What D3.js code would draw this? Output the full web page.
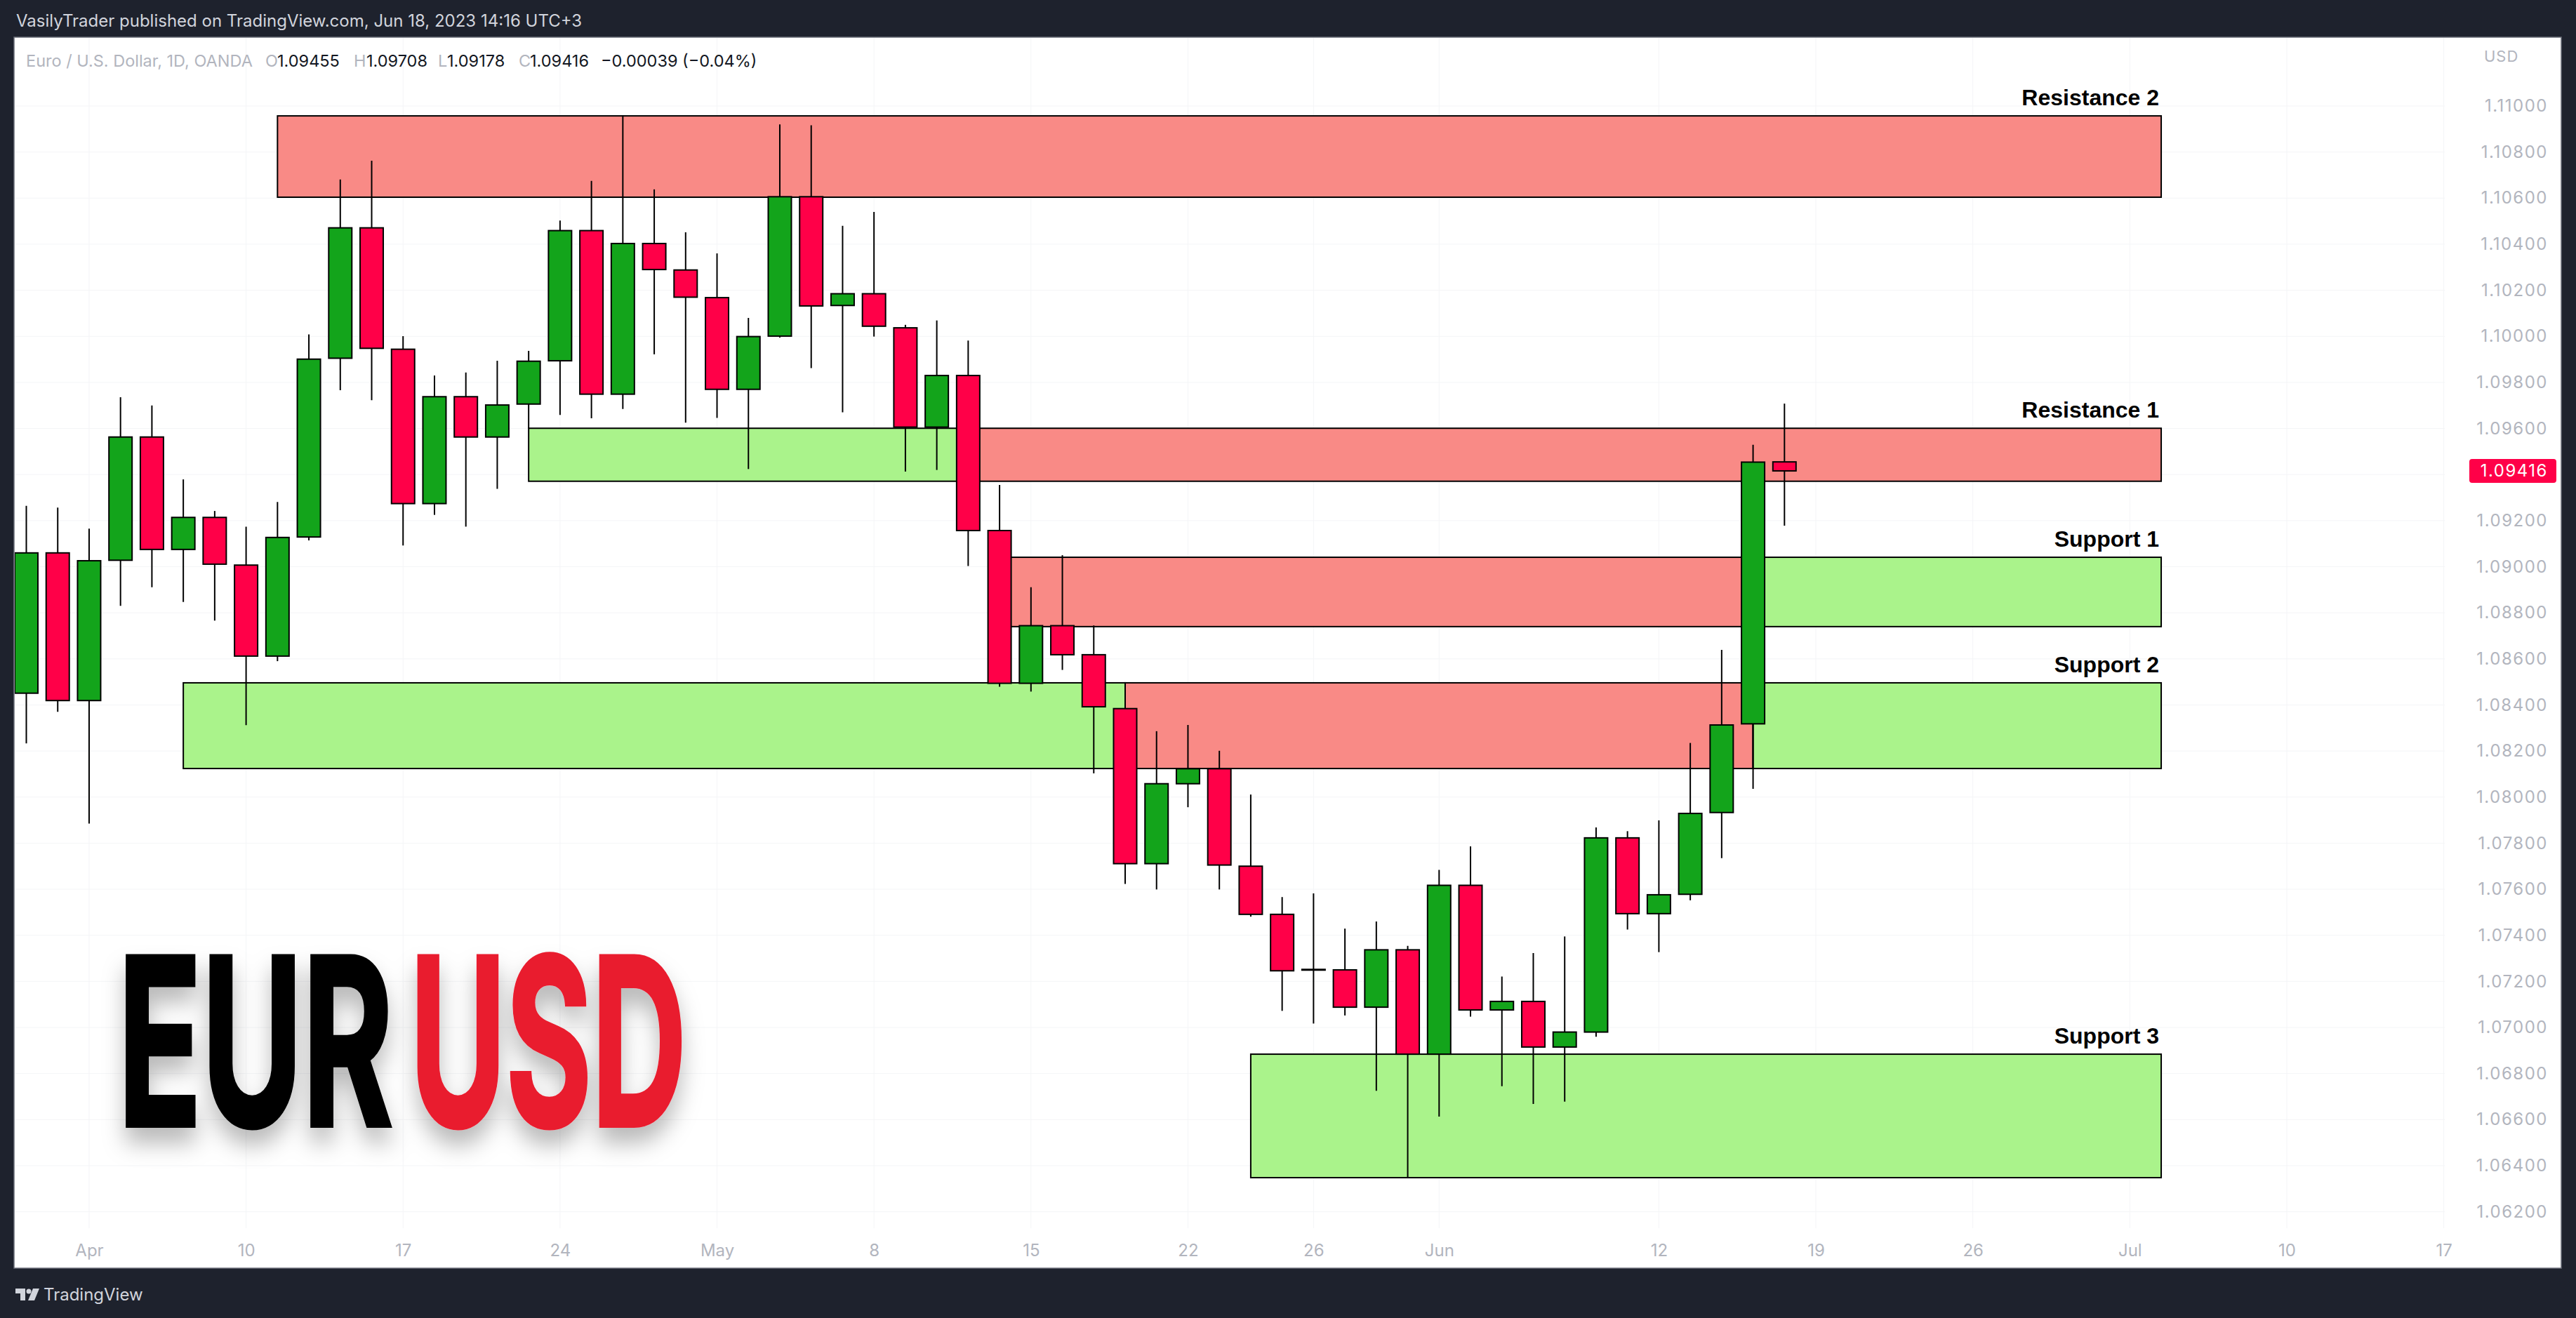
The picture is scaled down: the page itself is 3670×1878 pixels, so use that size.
<!DOCTYPE html>
<html>
<head>
<meta charset="utf-8">
<script src="https://cdn.jsdelivr.net/npm/d3@7"></script>
<style>
html,body{margin:0;padding:0;background:#1e222d;overflow:hidden}
text{font-family:Inter,"Noto Sans",sans-serif}
</style>
</head>
<body>
<svg id="chart" width="3670" height="1878"></svg>
<script>
// ---------- DATA ----------
const dates = ["2023-03-30","2023-03-31","2023-04-03","2023-04-04","2023-04-05","2023-04-06","2023-04-07",
"2023-04-10","2023-04-11","2023-04-12","2023-04-13","2023-04-14","2023-04-17","2023-04-18","2023-04-19",
"2023-04-20","2023-04-21","2023-04-24","2023-04-25","2023-04-26","2023-04-27","2023-04-28","2023-05-01",
"2023-05-02","2023-05-03","2023-05-04","2023-05-05","2023-05-08","2023-05-09","2023-05-10","2023-05-11",
"2023-05-12","2023-05-15","2023-05-16","2023-05-17","2023-05-18","2023-05-19","2023-05-22","2023-05-23",
"2023-05-24","2023-05-25","2023-05-26","2023-05-29","2023-05-30","2023-05-31","2023-06-01","2023-06-02",
"2023-06-05","2023-06-06","2023-06-07","2023-06-08","2023-06-09","2023-06-12","2023-06-13","2023-06-14",
"2023-06-15","2023-06-16"];
const openP  = [1.08451,1.09060,1.08419,1.09028,1.09563,1.09075,1.09214,1.09007,1.08612,1.09129,1.09905,1.10471,1.09944,1.09274,1.09738,
1.09563,1.09706,1.09894,1.10459,1.09749,1.10403,1.10288,1.10168,1.09770,1.10001,1.10606,1.10134,1.10185,1.10037,1.09606,1.09830,
1.09157,1.08494,1.08744,1.08618,1.08384,1.07711,1.08058,1.08123,1.07700,1.07491,1.07250,1.07250,1.07088,1.07337,1.06884,1.07617,
1.07076,1.07113,1.06915,1.06980,1.07823,1.07494,1.07578,1.07933,1.08318,1.09455];
const highP  = [1.09264,1.09257,1.09165,1.09736,1.09700,1.09379,1.09242,1.09174,1.09281,1.10008,1.10681,1.10762,1.10001,1.09830,1.09843,
1.09894,1.09937,1.10503,1.10675,1.10959,1.10638,1.10452,1.10360,1.10080,1.10920,1.10916,1.10480,1.10540,1.10050,1.10069,1.09982,
1.09355,1.08911,1.09050,1.08745,1.08495,1.08286,1.08313,1.08201,1.08011,1.07566,1.07582,1.07429,1.07460,1.07354,1.07684,1.07786,
1.07221,1.07323,1.07395,1.07868,1.07852,1.07899,1.08235,1.08639,1.09529,1.09708];
const lowP   = [1.08233,1.08370,1.07885,1.08830,1.08911,1.08847,1.08766,1.08312,1.08590,1.09114,1.09766,1.09723,1.09092,1.09225,1.09174,
1.09338,1.09601,1.09659,1.09644,1.09685,1.09922,1.09625,1.09646,1.09424,1.09995,1.09862,1.09670,1.09999,1.09413,1.09420,1.09003,
1.08479,1.08458,1.08552,1.08103,1.07623,1.07599,1.07956,1.07599,1.07481,1.07072,1.07017,1.07052,1.06725,1.06350,1.06613,1.07047,
1.06745,1.06668,1.06678,1.06960,1.07425,1.07327,1.07552,1.07735,1.08036,1.09178];
const closeP = [1.09060,1.08419,1.09026,1.09563,1.09075,1.09214,1.09011,1.08612,1.09127,1.09901,1.10471,1.09948,1.09274,1.09738,1.09563,
1.09702,1.09892,1.10459,1.09749,1.10403,1.10290,1.10170,1.09770,1.09999,1.10606,1.10132,1.10185,1.10044,1.09606,1.09830,1.09157,
1.08494,1.08744,1.08618,1.08392,1.07711,1.08058,1.08123,1.07705,1.07491,1.07246,1.07252,1.07088,1.07337,1.06884,1.07617,1.07076,
1.07113,1.06915,1.06980,1.07823,1.07494,1.07576,1.07929,1.08313,1.09454,1.09416];

const yTickValues = [1.062,1.064,1.066,1.068,1.070,1.072,1.074,1.076,1.078,1.080,1.082,1.084,1.086,1.088,1.090,
1.092,1.094,1.096,1.098,1.100,1.102,1.104,1.106,1.108,1.110];
const xTickLabels = ["Apr","10","17","24","May","8","15","22","26","Jun","12","19","26","Jul","10","17"];
const xTickDates  = ["2023-04-03","2023-04-10","2023-04-17","2023-04-24","2023-05-01","2023-05-08","2023-05-15",
"2023-05-22","2023-05-26","2023-06-01","2023-06-12","2023-06-19","2023-06-26","2023-07-03","2023-07-10","2023-07-17"];

// zones (price rectangles)
const zoneFrom = ["2023-04-11","2023-04-21","2023-05-11","2023-05-12","2023-06-15","2023-04-06","2023-05-18","2023-06-15","2023-05-24"];
const zoneTo   = ["2023-07-04","2023-05-11","2023-07-04","2023-06-15","2023-07-04","2023-05-18","2023-06-15","2023-07-04","2023-07-04"];
const zoneHigh = [1.10957,1.09601,1.09601,1.09041,1.09041,1.08496,1.08496,1.08496,1.06884];
const zoneLow  = [1.10604,1.09371,1.09371,1.08740,1.08740,1.08124,1.08124,1.08124,1.06348];
const zoneKind = ["resistance","support","resistance","resistance","support","support","resistance","support","support"];

const levelNames  = ["Resistance 2","Resistance 1","Support 1","Support 2","Support 3"];
const levelPrices = [1.10957,1.09601,1.09041,1.08496,1.06884];
const levelEnd    = "2023-07-04";

const symbolTitle = "Euro / U.S. Dollar, 1D, OANDA";
const lastChange = "\u22120.00039 (\u22120.04%)";

// ---------- HELPERS ----------
const t0 = Date.UTC(2023,2,30);
function tIndex(s){
  const [y,m,d] = s.split("-").map(Number);
  const t = Date.UTC(y,m-1,d);
  let n = 0;
  for(let u=t0; u<t; u+=864e5){ const wd = new Date(u).getUTCDay(); if(wd!==0 && wd!==6) n++; }
  return n;
}

const W = 3670, H = 1878;
const svg = d3.select("#chart");
const x = d3.scaleLinear().domain([0, 77]).range([37.5, 3481.6]);
const y = d3.scaleLinear().domain([1.062, 1.110]).range([1726.6, 151]);
const zoneColor = d3.scaleOrdinal().domain(["resistance","support"]).range(["#f98a86","#aaf38b"]);
const candleColor = (o,c) => c >= o ? "#13a41b" : "#ff0048";

// background + panel
svg.append("rect").attr("width",W).attr("height",H).attr("fill","#1e222d");
svg.append("rect").attr("x",20).attr("y",53).attr("width",3629).attr("height",1754)
  .attr("fill","#ffffff").attr("stroke","#6a6d78").attr("stroke-width",1.5);

const defs = svg.append("defs");
defs.append("clipPath").attr("id","plotClip").append("rect")
  .attr("x",21).attr("y",54).attr("width",3462).attr("height",1700);
const f = defs.append("filter").attr("id","shadow").attr("x","-20%").attr("y","-20%").attr("width","140%").attr("height","160%");
f.append("feDropShadow").attr("dx",0).attr("dy",22).attr("stdDeviation",16)
  .attr("flood-color","#000").attr("flood-opacity",0.28);

// grid
const grid = svg.append("g").attr("clip-path","url(#plotClip)");
grid.selectAll("line.h").data(yTickValues).join("line")
  .attr("x1",20).attr("x2",3483).attr("y1",d=>y(d)).attr("y2",d=>y(d))
  .attr("stroke","#f4f5f7").attr("stroke-width",1);
grid.selectAll("line.v").data(xTickDates).join("line")
  .attr("x1",d=>x(tIndex(d))).attr("x2",d=>x(tIndex(d))).attr("y1",54).attr("y2",1750)
  .attr("stroke","#f4f5f7").attr("stroke-width",1);

// zones
const plot = svg.append("g").attr("clip-path","url(#plotClip)");
plot.append("g").selectAll("rect").data(zoneFrom.map((d,i)=>i)).join("rect")
  .attr("x",i=>x(tIndex(zoneFrom[i])))
  .attr("width",i=>x(tIndex(zoneTo[i]))-x(tIndex(zoneFrom[i])))
  .attr("y",i=>y(zoneHigh[i]))
  .attr("height",i=>y(zoneLow[i])-y(zoneHigh[i]))
  .attr("fill",i=>zoneColor(zoneKind[i]))
  .attr("stroke","#000").attr("stroke-width",2);

// candles
const idx = dates.map((d,i)=>i);
const cg = plot.append("g");
cg.selectAll("line").data(idx).join("line")
  .attr("x1",i=>x(tIndex(dates[i]))).attr("x2",i=>x(tIndex(dates[i])))
  .attr("y1",i=>y(highP[i])).attr("y2",i=>y(lowP[i]))
  .attr("stroke","#000").attr("stroke-width",2);
const bw = 33;
cg.selectAll("rect").data(idx).join("rect")
  .attr("x",i=>x(tIndex(dates[i]))-bw/2)
  .attr("width",bw)
  .attr("y",i=>y(Math.max(openP[i],closeP[i])))
  .attr("height",i=>Math.max(1,Math.abs(y(openP[i])-y(closeP[i]))))
  .attr("fill",i=>candleColor(openP[i],closeP[i]))
  .attr("stroke","#000").attr("stroke-width",2);

// level labels
svg.append("g").selectAll("text").data(levelNames).join("text")
  .attr("x",x(tIndex(levelEnd))-3)
  .attr("y",(d,i)=>y(levelPrices[i])-15)
  .attr("text-anchor","end")
  .style("font-family","'Liberation Sans',Arial,sans-serif")
  .attr("font-weight",700).attr("font-size",32).attr("fill","#000")
  .text(d=>d);

// y axis
const yAxis = svg.append("g").attr("transform","translate(3630,0)")
  .call(d3.axisRight(y).tickValues(yTickValues).tickFormat(d3.format(".5f")).tickSize(0).tickPadding(0));
yAxis.select(".domain").remove();
yAxis.selectAll("text").attr("text-anchor","end").attr("fill","#b2b5be")
  .attr("font-size",24).style("letter-spacing","1.5px").style("font-family","Inter,sans-serif");
svg.append("text").attr("x",3539).attr("y",88).attr("fill","#b2b5be").attr("font-size",22)
  .style("letter-spacing","1px").text("USD");

// last price label
const lastC = closeP[closeP.length-1];
svg.append("rect").attr("x",3518).attr("y",y(lastC)-17).attr("width",124).attr("height",34).attr("rx",4)
  .attr("fill","#ff0048");
svg.append("text").attr("x",3630).attr("y",y(lastC)).attr("dy","0.35em").attr("text-anchor","end")
  .attr("fill","#fff").attr("font-size",24).style("letter-spacing","1.5px").text(d3.format(".5f")(lastC));

// x axis
const xAxis = svg.append("g").attr("transform","translate(0,1773)")
  .call(d3.axisBottom(x).tickValues(xTickDates.map(tIndex)).tickFormat((d,i)=>xTickLabels[i]).tickSize(0).tickPadding(0));
xAxis.select(".domain").remove();
xAxis.selectAll("text").attr("fill","#b2b5be").attr("font-size",24).style("font-family","Inter,sans-serif");

// header
svg.append("text").attr("x",23).attr("y",38).attr("fill","#d1d4dc").attr("font-size",24)
  .text("VasilyTrader published on TradingView.com, Jun 18, 2023 14:16 UTC+3");
const hdr = svg.append("text").attr("y",95).attr("font-size",23.5);
const grey = "#b2b5be", dark = "#131722";
const pieces = [
  [symbolTitle,37,grey],["O",378,grey],[d3.format(".5f")(openP[56]),395,dark],
  ["H",504,grey],[d3.format(".5f")(highP[56]),522,dark],
  ["L",624,grey],[d3.format(".5f")(lowP[56]),637,dark],
  ["C",739,grey],[d3.format(".5f")(closeP[56]),755,dark],
  [lastChange,856,dark]
];
pieces.forEach(p=>hdr.append("tspan").attr("x",p[1]).attr("fill",p[2]).text(p[0]));

// big title (scaled horizontally to the condensed look)
const title = svg.append("g").attr("filter","url(#shadow)")
  .style("font-family","Roboto,'Liberation Sans',sans-serif").attr("font-weight",700);
function bigWord(txt, x0, targetW, color){
  const g = title.append("g");
  const t = g.append("text").attr("x",0).attr("y",0).attr("font-size",332)
    .attr("fill",color).attr("stroke",color).attr("stroke-width",6).text(txt);
  const natural = t.node().getComputedTextLength();
  g.attr("transform",`translate(${x0},1604) scale(${targetW/natural},1)`);
}
bigWord("EUR",168,392,"#000000");
bigWord("USD",584,394,"#e91c2f");

// footer logo
const logo = svg.append("g").attr("fill","#d1d4dc");
logo.append("path").attr("d","M22,1836 h14 v17 h-7 v-10 h-7 z");
logo.append("circle").attr("cx",41).attr("cy",1840).attr("r",3.5);
logo.append("path").attr("d","M47,1836 h9 l-7,17 h-9 z");
svg.append("text").attr("x",62).attr("y",1853).attr("fill","#d1d4dc").attr("font-size",24).text("TradingView");
</script>
</body>
</html>
